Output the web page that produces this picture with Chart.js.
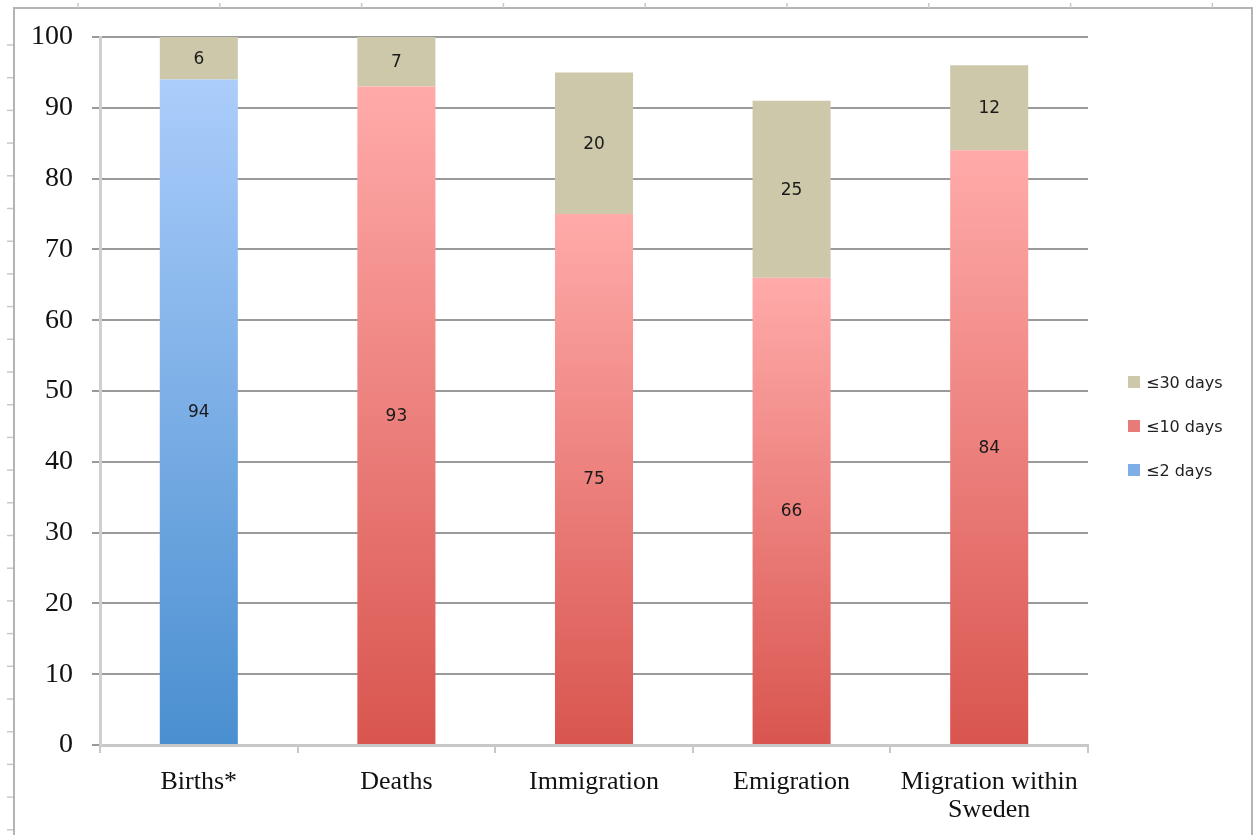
<!DOCTYPE html>
<html lang="en">
<head>
    <meta charset="UTF-8">
    <title>Registration timeliness</title>
    <style>
body, html {
    margin: 0;
    padding: 0;
    background-color: #ffffff;
    overflow: hidden;
}
#wrap {
    position: relative;
    width: 1254px;
    height: 835px;
}
#legend {
    position: absolute;
    left: 1128px;
    top: 371px;
    font-family: 'DejaVu Sans', sans-serif;
    font-size: 16px;
    color: #222;
}
.item {
    height: 22px;
    margin-bottom: 22px;
    display: flex;
    align-items: center;
}
.swatch {
    width: 12px;
    height: 12px;
    margin-right: 6px;
}
    </style>
    <script src="https://cdn.jsdelivr.net/npm/chart.js"></script>
</head>
<body>
<div id="wrap">
    <canvas id="delayChart" width="1254" height="835"></canvas>
    <div id="legend"></div>
</div>
<script>
// categories and series (percent of events registered within N days)
const categories = ['Births*', 'Deaths', 'Immigration', 'Emigration', ['Migration within', 'Sweden']];
const within2Days  = [94, null, null, null, null];
const within10Days = [null, 93, 75, 66, 84];
const within30Days = [6, 7, 20, 25, 12];
const yTicks = [0, 10, 20, 30, 40, 50, 60, 70, 80, 90, 100];

// vertical gradient per bar, from bar top down to zero
function barGradient(topColor, bottomColor) {
    return function(context) {
        const chart = context.chart;
        if (!chart.chartArea || !context.parsed || context.parsed.y == null) return bottomColor;
        const y = chart.scales.y;
        const g = chart.ctx.createLinearGradient(0, y.getPixelForValue(context.parsed.y), 0, y.getPixelForValue(0));
        g.addColorStop(0, topColor);
        g.addColorStop(1, bottomColor);
        return g;
    };
}

// frame and spreadsheet ruler marks around the chart
const framePlugin = {
    id: 'frame',
    beforeDraw(chart) {
        const c = chart.ctx;
        c.save();
        c.strokeStyle = '#b4b4b4';
        c.lineWidth = 2;
        c.strokeRect(14, 8, 1238, 840);
        c.strokeStyle = '#c8c8c8';
        c.lineWidth = 1.5;
        for (let x = 78; x < 1254; x += 141.8) {
            c.beginPath(); c.moveTo(x, 3); c.lineTo(x, 8); c.stroke();
        }
        for (let y = 45; y < 835; y += 32.7) {
            c.beginPath(); c.moveTo(7, y); c.lineTo(13, y); c.stroke();
        }
        c.restore();
    }
};

// value labels in the middle of each segment
const valueLabels = {
    id: 'valueLabels',
    afterDatasetsDraw(chart) {
        const c = chart.ctx;
        c.save();
        c.font = '17px "DejaVu Sans", sans-serif';
        c.fillStyle = '#1a1a1a';
        c.textAlign = 'center';
        c.textBaseline = 'middle';
        chart.data.datasets.forEach((ds, i) => {
            chart.getDatasetMeta(i).data.forEach((bar, j) => {
                const v = ds.data[j];
                if (v == null) return;
                const p = bar.getProps(['x', 'y', 'base'], true);
                c.fillText(String(v), p.x, (p.y + p.base) / 2 + 1);
            });
        });
        c.restore();
    }
};

const datasets = [
    { label: '≤2 days', data: within2Days, backgroundColor: barGradient('#abcdfb', '#4a8fd0'), swatch: '#7eaee6' },
    { label: '≤10 days', data: within10Days, backgroundColor: barGradient('#ffabaa', '#d9554f'), swatch: '#e87a78' },
    { label: '≤30 days', data: within30Days, backgroundColor: '#cec8aa', swatch: '#cec8aa' }
];

new Chart(document.getElementById('delayChart').getContext('2d'), {
    type: 'bar',
    data: {
        labels: categories,
        datasets: datasets.map(d => ({
            label: d.label,
            data: d.data,
            backgroundColor: d.backgroundColor,
            borderWidth: 0,
            categoryPercentage: 1,
            barPercentage: 0.395
        }))
    },
    options: {
        responsive: false,
        animation: false,
        layout: { padding: { left: 0, top: 37, right: 166, bottom: 0 } },
        plugins: {
            legend: { display: false },
            tooltip: { enabled: false }
        },
        scales: {
            x: {
                stacked: true,
                afterFit(scale) { scale.height = 90; },
                grid: { drawOnChartArea: false, drawTicks: true, tickLength: 8, color: '#c8c8c8', lineWidth: 2 },
                border: { color: '#c8c8c8', width: 3 },
                ticks: {
                    color: '#111',
                    padding: 15,
                    maxRotation: 0,
                    font: { family: '"Liberation Serif", serif', size: 26, lineHeight: 1.08 }
                }
            },
            y: {
                stacked: true,
                min: 0,
                max: 100,
                afterFit(scale) { scale.width = 100; },
                afterBuildTicks(scale) { scale.ticks = yTicks.map(v => ({ value: v })); },
                grid: { color: '#9a9a9a', lineWidth: 2, tickLength: 8 },
                border: { color: '#cfcfcf', width: 3 },
                ticks: {
                    color: '#111',
                    padding: 19,
                    font: { family: '"Liberation Serif", serif', size: 28 }
                }
            }
        }
    },
    plugins: [framePlugin, valueLabels]
});

// legend, listed top-down in reverse stacking order
const legend = document.getElementById('legend');
datasets.slice().reverse().forEach(d => {
    const row = document.createElement('div');
    row.className = 'item';
    row.innerHTML = '<span class="swatch" style="background:' + d.swatch + '"></span>' + d.label;
    legend.appendChild(row);
});
</script>
</body>
</html>
